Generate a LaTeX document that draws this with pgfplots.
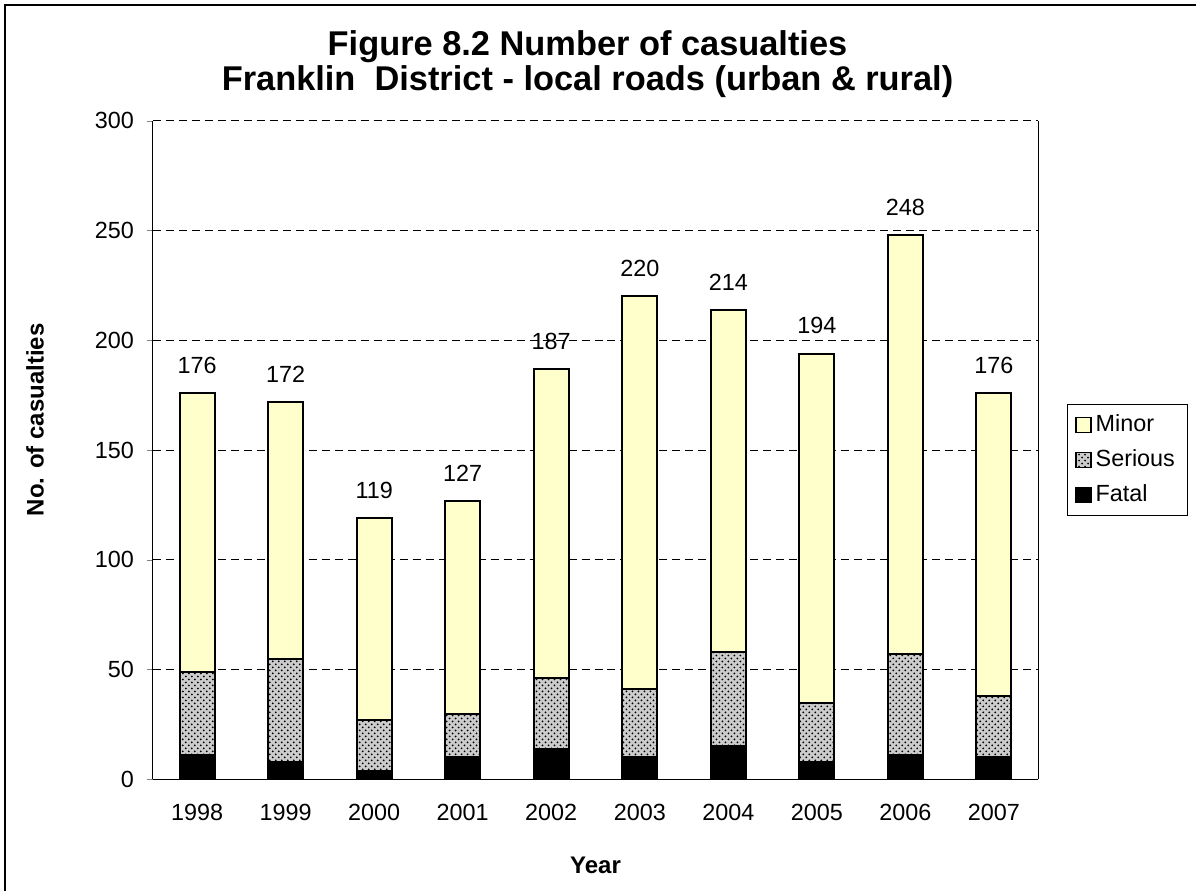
\documentclass[border=0pt]{standalone}
\usepackage{fontspec}
\setmainfont{Liberation Sans}
\usepackage{pgfplots}
\usepackage{pgfplotstable}
\pgfplotsset{compat=1.18}
\usetikzlibrary{patterns}
\definecolor{minorc}{HTML}{FFFFCC}

\pgfplotstableread{
x year fatal serious minor total
0 1998 11 38 127 176
1 1999 8 47 117 172
2 2000 4 23 92 119
3 2001 10 20 97 127
4 2002 14 32 141 187
5 2003 10 31 179 220
6 2004 15 43 156 214
7 2005 8 27 159 194
8 2006 11 46 191 248
9 2007 10 28 138 176
}\data

\pgfplotsset{
  common/.style={
    at={(76.5pt,56pt)}, anchor=south west,
    scale only axis, width=443pt, height=329.5pt,
    xmin=-0.5, xmax=9.5, ymin=0, ymax=300,
    /pgf/number format/assume math mode=true,
  }
}

\begin{document}
\begin{tikzpicture}
\path (0pt,0pt) rectangle (598.5pt,446pt);
\draw[line width=1pt] (2.5pt,0pt) -- (2.5pt,443.5pt) -- (598.5pt,443.5pt);
\node[font=\bfseries\fontsize{17.2}{17.5}\selectfont, align=center] at (294pt,414pt)
  {Figure 8.2 Number of casualties\\Franklin\ \ District - local roads (urban \& rural)};
\begin{axis}[
  common,
  ybar stacked, bar width=17.5pt,
  xtick=data, xticklabels={1998,1999,2000,2001,2002,2003,2004,2005,2006,2007},
  ytick={0,50,...,300},
  axis x line=bottom, axis y line=left,
  axis line style={-, line width=0.6pt},
  major x tick style={draw=none},
  tick align=outside, major tick length=3pt,
  ymajorgrids, grid style={black, line width=0.4pt, dash pattern=on 4pt off 2.5pt},
  tick label style={font=\fontsize{11.7}{14}\selectfont},
  xticklabel style={yshift=-6pt},
  yticklabel style={xshift=-3pt},
  xlabel={\bfseries Year},
  ylabel={\bfseries No. of casualties},
  label style={font=\bfseries\fontsize{12}{14}\selectfont},
  xlabel style={at={(axis description cs:0.5,0)}, anchor=center, yshift=-43pt},
  ylabel style={at={(axis description cs:-0.133,0.546)}, anchor=center},
  legend style={at={(axis description cs:1.0327,0.5706)}, anchor=north west,
    draw=black, line width=0.4pt, font=\fontsize{11.7}{14}\selectfont,
    row sep=3.5pt, inner xsep=4pt, inner ysep=3.5pt, cells={anchor=west}},
  reverse legend,
  legend image code/.code={\draw[#1, line width=0.6pt] (0pt,-3.75pt) rectangle (7.5pt,3.75pt);},
  extra description/.code={\draw[line width=0.6pt] (rel axis cs:1,0) -- (rel axis cs:1,1);},
]
\addplot[draw=black, line width=1pt, fill=black] table[x=x,y=fatal]{\data};
\addlegendentry{Fatal}
\addplot[draw=black, line width=1pt, fill=black!20, postaction={pattern=crosshatch dots, pattern color=black}] table[x=x,y=serious]{\data};
\addlegendentry{Serious}
\addplot[draw=black, line width=1pt, fill=minorc] table[x=x,y=minor]{\data};
\addlegendentry{Minor}
\end{axis}
\begin{axis}[common, hide axis]
\addplot[draw=none, mark=none, nodes near coords,
  every node near coord/.append style={font=\fontsize{11.7}{14}\selectfont, text=black, anchor=south, inner sep=0pt, yshift=9.5pt}]
  table[x=x,y=total]{\data};
\end{axis}
\end{tikzpicture}
\end{document}
